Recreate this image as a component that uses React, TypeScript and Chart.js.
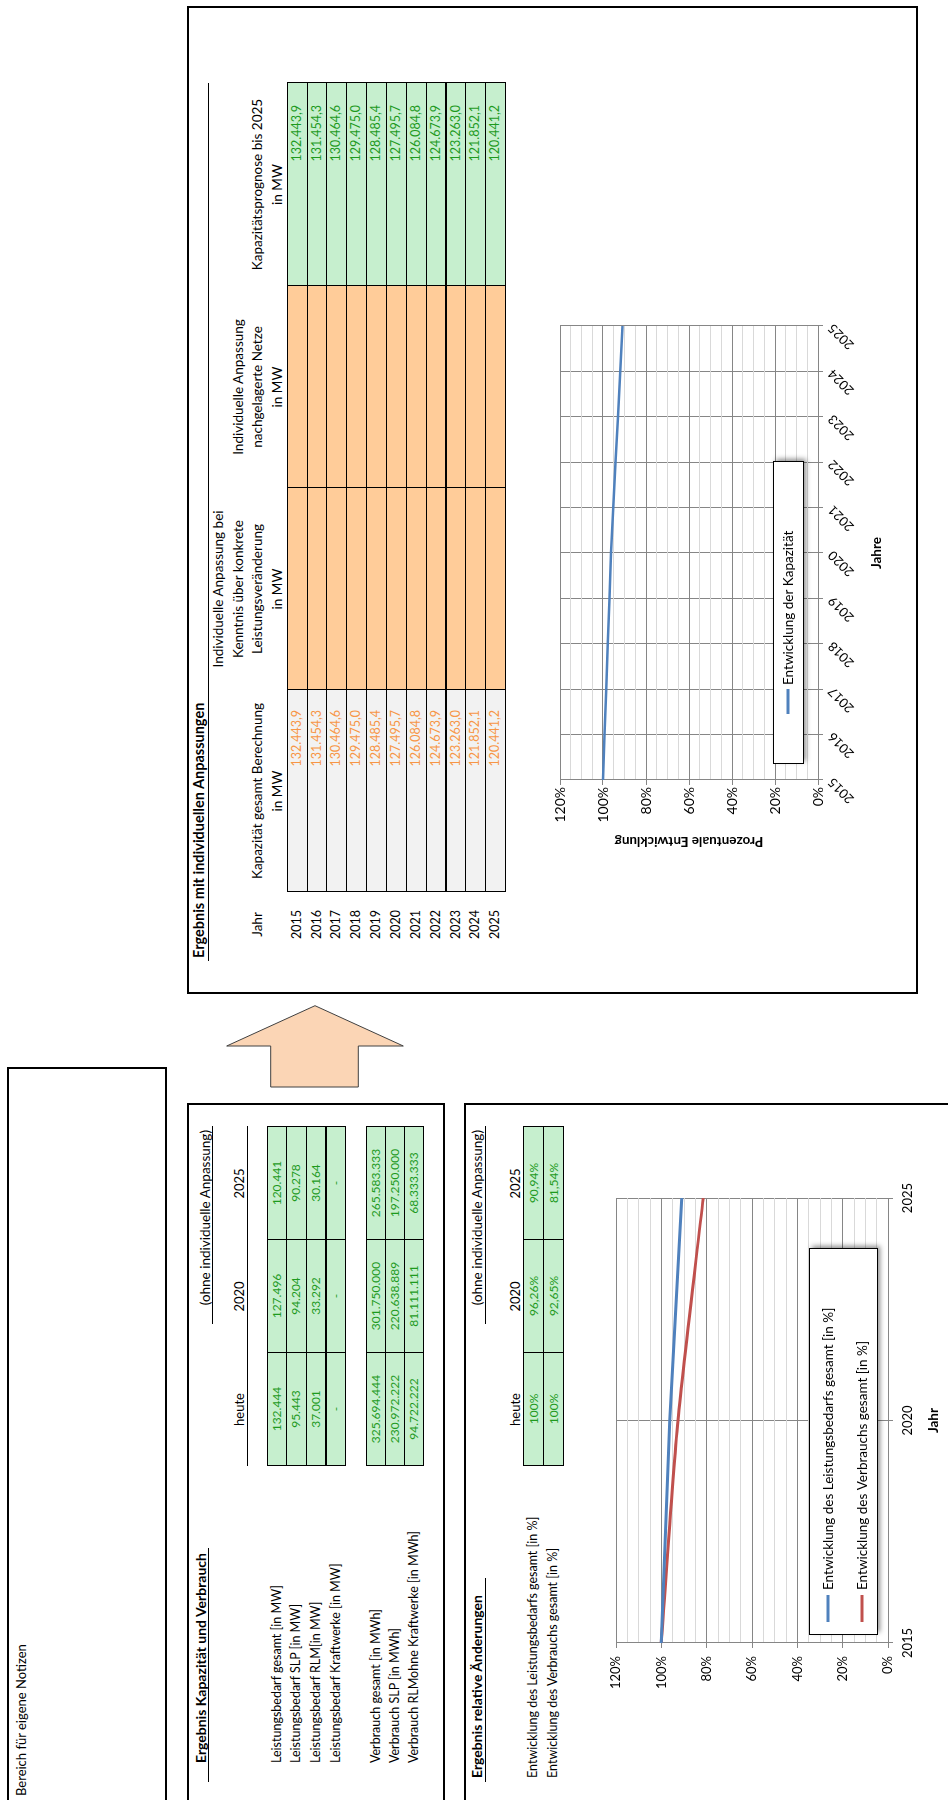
import React, { useEffect, useRef } from 'react';
import { Chart, registerables } from 'chart.js';

Chart.register(...registerables);
Chart.defaults.font.family = 'Lato, "Open Sans", sans-serif';
Chart.defaults.color = '#000';

// ---------------- data ----------------
const years = ['2015', '2016', '2017', '2018', '2019', '2020', '2021', '2022', '2023', '2024', '2025'];
const kapazitaetBerechnungMW = [132443.9, 131454.3, 130464.6, 129475.0, 128485.4, 127495.7, 126084.8, 124673.9, 123263.0, 121852.1, 120441.2];
const kapazitaetPrognoseMW = [132443.9, 131454.3, 130464.6, 129475.0, 128485.4, 127495.7, 126084.8, 124673.9, 123263.0, 121852.1, 120441.2];
const kapazitaetEntwicklungPct = [100, 99.25, 98.51, 97.76, 97.01, 96.26, 95.2, 94.13, 93.07, 92.0, 90.94];

const summaryColumns = ['heute', '2020', '2025'];
const leistungRows = ['Leistungsbedarf gesamt [in MW]', 'Leistungsbedarf SLP [in MW]', 'Leistungsbedarf RLM[in MW]', 'Leistungsbedarf Kraftwerke [in MW]'];
const leistungValues = [
  [132444, 127496, 120441],
  [95443, 94204, 90278],
  [37001, 33292, 30164],
  [null, null, null],
];
const verbrauchRows = ['Verbrauch gesamt [in MWh]', 'Verbrauch SLP [in MWh]', 'Verbrauch RLMohne Kraftwerke [in MWh]'];
const verbrauchValues = [
  [325694444, 301750000, 265583333],
  [230972222, 220638889, 197250000],
  [94722222, 81111111, 68333333],
];

const relChartYears = ['2015', '2020', '2025'];
const leistungsbedarfPct = [100, 96.26, 90.94];
const verbrauchPct = [100, 92.65, 81.54];
const relRows = ['Entwicklung des Leistungsbedarfs gesamt [in %]', 'Entwicklung des Verbrauchs gesamt [in %]'];

// ---------------- formatting ----------------
const groupDE = (s: string) => s.replace(/\B(?=(\d{3})+(?!\d))/g, '.');
const fmtInt = (n: number | null) => (n == null ? '-' : groupDE(String(Math.round(n))));
const fmtOne = (n: number) => {
  const [i, d] = n.toFixed(1).split('.');
  return groupDE(i) + ',' + d;
};
const fmtPct = (n: number) => (Number.isInteger(n) ? String(n) : n.toFixed(2).replace('.', ',')) + '%';

// ---------------- styles ----------------
const MAJOR = '#868686';
const MINOR = '#D9D9D9';
const BLUE = '#4F81BD';
const RED = '#C0504D';
const GREEN_BG = '#C6EFCE';
const GREEN_TX = '#1E9A1E';
const ORANGE_BG = '#FFCC99';
const ORANGE_TX = '#F79646';
const GREY_BG = '#F2F2F2';

// ---------------- chart helpers ----------------
const boxLegend = {
  id: 'boxLegend',
  afterDraw(chart: any, _args: any, o: any) {
    const { ctx, chartArea: ca } = chart;
    const x = Math.round(ca.left + o.x);
    const y = Math.round(ca.bottom - o.fromBottom);
    ctx.save();
    ctx.shadowColor = 'rgba(0,0,0,0.45)';
    ctx.shadowBlur = 5;
    ctx.shadowOffsetX = 3;
    ctx.shadowOffsetY = 3;
    ctx.fillStyle = '#fff';
    ctx.fillRect(x, y, o.w, o.h);
    ctx.shadowColor = 'rgba(0,0,0,0)';
    ctx.strokeStyle = '#000';
    ctx.lineWidth = 1;
    ctx.strokeRect(x + 0.5, y + 0.5, o.w, o.h);
    ctx.font = `${o.font}px Lato, "Open Sans", sans-serif`;
    ctx.textBaseline = 'middle';
    ctx.textAlign = 'left';
    chart.data.datasets.forEach((ds: any, i: number) => {
      const cy = y + o.rows[i];
      ctx.strokeStyle = ds.borderColor;
      ctx.lineWidth = 3;
      ctx.beginPath();
      ctx.moveTo(x + o.padLeft, cy);
      ctx.lineTo(x + o.padLeft + o.sample, cy);
      ctx.stroke();
      ctx.fillStyle = '#000';
      ctx.fillText(ds.label, x + o.padLeft + o.sample + o.gap, cy + 0.5);
    });
    ctx.restore();
  },
};

function pctScale(fontSize: number, pad: number, width: number, title?: string) {
  return {
    min: 0,
    max: 120,
    afterFit: (s: any) => {
      s.width = width;
    },
    ticks: {
      stepSize: 5,
      autoSkip: false,
      padding: pad,
      font: { size: fontSize },
      callback: (v: any) => (Number(v) % 20 === 0 ? `${v}%` : ''),
    },
    grid: {
      color: (c: any) => (c.tick && c.tick.value % 20 === 0 ? MAJOR : MINOR),
      tickColor: (c: any) => (c.tick && c.tick.value % 20 === 0 ? MAJOR : 'rgba(0,0,0,0)'),
      tickLength: 5,
      lineWidth: 1,
    },
    border: { color: MAJOR, width: 1 },
    title: title
      ? { display: true, text: title, font: { size: 13.5, weight: 'bold' }, padding: { top: 21, bottom: 0 } }
      : { display: false },
  };
}

const topChartConfig = () => ({
  type: 'line',
  data: {
    labels: years,
    datasets: [
      {
        label: 'Entwicklung der Kapazität',
        data: kapazitaetEntwicklungPct,
        borderColor: BLUE,
        backgroundColor: BLUE,
        borderWidth: 2.5,
        pointRadius: 0,
        tension: 0,
      },
    ],
  },
  options: {
    animation: false,
    responsive: false,
    devicePixelRatio: 1,
    layout: { padding: { left: 0, right: 16, top: 12, bottom: 0 } },
    plugins: {
      legend: { display: false },
      tooltip: { enabled: false },
      boxLegend: { x: 16, w: 302, fromBottom: 45, h: 30, padLeft: 50, sample: 25, gap: 4, rows: [15], font: 13.5 },
    },
    scales: {
      x: {
        type: 'category',
        offset: false,
        afterFit: (s: any) => {
          s.height = 80;
        },
        grid: { color: MAJOR, tickColor: MAJOR, tickLength: 5, offset: false },
        border: { color: MAJOR, width: 1 },
        ticks: { minRotation: 45, maxRotation: 45, autoSkip: false, padding: 2, font: { size: 13 } },
        title: { display: true, text: 'Jahre', font: { size: 13.5, weight: 'bold' }, padding: { top: 0, bottom: 13 } },
      },
      y: pctScale(14, 2, 90, 'Prozentuale Entwicklung'),
    },
  },
  plugins: [boxLegend],
});

const relChartConfig = () => ({
  type: 'line',
  data: {
    labels: relChartYears,
    datasets: [
      {
        label: 'Entwicklung des Leistungsbedarfs gesamt [in %]',
        data: leistungsbedarfPct,
        borderColor: BLUE,
        backgroundColor: BLUE,
        borderWidth: 3,
        pointRadius: 0,
        tension: 0.25,
      },
      {
        label: 'Entwicklung des Verbrauchs gesamt [in %]',
        data: verbrauchPct,
        borderColor: RED,
        backgroundColor: RED,
        borderWidth: 3,
        pointRadius: 0,
        tension: 0.25,
      },
    ],
  },
  options: {
    animation: false,
    responsive: false,
    devicePixelRatio: 1,
    layout: { padding: { left: 0, right: 16, top: 16, bottom: 0 } },
    plugins: {
      legend: { display: false },
      tooltip: { enabled: false },
      boxLegend: { x: 8, w: 386, fromBottom: 79, h: 68, padLeft: 13, sample: 27, gap: 5, rows: [19, 53], font: 13.5 },
    },
    scales: {
      x: {
        type: 'category',
        offset: false,
        afterFit: (s: any) => {
          s.height = 60;
        },
        grid: { color: MAJOR, tickColor: MAJOR, tickLength: 5, offset: false },
        border: { color: MAJOR, width: 1 },
        ticks: { maxRotation: 0, autoSkip: false, padding: 7, font: { size: 13 } },
        title: { display: true, text: 'Jahr', font: { size: 13.5, weight: 'bold' }, padding: { top: 0, bottom: 6 } },
      },
      y: pctScale(13, 8, 57),
    },
  },
  plugins: [boxLegend],
});

function ChartCanvas({ config, left, top, width, height }: any) {
  const ref = useRef<HTMLCanvasElement>(null);
  useEffect(() => {
    const chart = new Chart(ref.current as HTMLCanvasElement, config() as any);
    return () => chart.destroy();
  }, []);
  return (
    <canvas
      ref={ref}
      width={width}
      height={height}
      style={{ position: 'absolute', left, top, width, height, display: 'block' }}
    />
  );
}

// ---------------- layout helpers (landscape coordinates) ----------------
function Txt({ x, y, w, h, children, align = 'left', size = 12, bold = false, color = '#000', pr = 0 }: any) {
  return (
    <div
      style={{
        position: 'absolute',
        left: x,
        top: y,
        width: w,
        height: h,
        lineHeight: `${h}px`,
        textAlign: align,
        fontSize: size,
        fontWeight: bold ? 700 : 400,
        color,
        paddingRight: pr,
        boxSizing: 'border-box',
        whiteSpace: 'nowrap',
      }}
    >
      {children}
    </div>
  );
}

function HLine({ x1, x2, y, t = 1 }: any) {
  return <div style={{ position: 'absolute', left: x1, top: y - t / 2, width: x2 - x1, height: t, background: '#000' }} />;
}

function Cell({ x, y, w, h, bg, children, align = 'right', pr = 0, color = '#000', size = 12 }: any) {
  return (
    <div
      style={{
        position: 'absolute',
        left: x,
        top: y,
        width: w + 1,
        height: h + 1,
        border: '1px solid #000',
        boxSizing: 'border-box',
        background: bg,
        lineHeight: `${h - 1}px`,
        textAlign: align,
        paddingRight: pr,
        color,
        fontSize: size,
        whiteSpace: 'nowrap',
      }}
    >
      {children}
    </div>
  );
}

function Box({ x, y, w, h }: any) {
  return (
    <div
      style={{ position: 'absolute', left: x, top: y, width: w, height: h, border: '2px solid #000', boxSizing: 'border-box' }}
    />
  );
}

function Arrow() {
  const ox = 700;
  const oy = 220;
  const pts = [
    [713, 270.7],
    [754, 270.7],
    [754, 226.7],
    [794.3, 315],
    [754, 403.3],
    [754, 358.3],
    [713, 358.3],
  ]
    .map(([a, b]) => `${a - ox},${b - oy}`)
    .join(' ');
  return (
    <svg style={{ position: 'absolute', left: ox, top: oy, overflow: 'visible' }} width={110} height={200}>
      <polygon points={pts} fill="#FBD5B5" stroke="#404040" strokeWidth={1} />
    </svg>
  );
}

// ---------------- sections ----------------
const TOP_ROW_Y = 286.7;
const TOP_ROW_H = 19.85;
const HDR_LINE = 19.5;
const HDR_TOP = 209.25;

const topHeaderCols = [
  { x: 855, w: 41, lines: ['Jahr'] },
  { x: 908, w: 202, lines: ['Kapazität gesamt Berechnung', 'in MW'] },
  { x: 1110, w: 202, lines: ['Individuelle Anpassung bei', 'Kenntnis über konkrete', 'Leistungsveränderung', 'in MW'] },
  { x: 1312, w: 202, lines: ['Individuelle Anpassung', 'nachgelagerte Netze', 'in MW'] },
  { x: 1514, w: 203, lines: ['Kapazitätsprognose bis 2025', 'in MW'] },
];

function TopSection() {
  const rowY = (i: number) => TOP_ROW_Y + i * TOP_ROW_H;
  return (
    <>
      <Txt x={842} y={190} h={18} size={14.5} bold>
        Ergebnis mit individuellen Anpassungen
      </Txt>
      <HLine x1={839} x2={1717} y={208} />
      {topHeaderCols.map((c, ci) =>
        c.lines.map((ln, li) => (
          <Txt
            key={`h${ci}-${li}`}
            x={c.x}
            w={c.w}
            y={HDR_TOP + (4 - c.lines.length + li) * HDR_LINE - (c.lines.length === 1 ? HDR_LINE : 0)}
            h={HDR_LINE}
            size={13.5}
            align="center"
          >
            {ln}
          </Txt>
        ))
      )}
      {years.map((yr, i) => (
        <React.Fragment key={yr}>
          <Txt x={855} w={41} y={rowY(i)} h={TOP_ROW_H} size={12.5} align="center">
            {yr}
          </Txt>
          <Cell x={908} y={rowY(i)} w={202} h={TOP_ROW_H} bg={GREY_BG} pr={20} color={ORANGE_TX} size={12.5}>
            {fmtOne(kapazitaetBerechnungMW[i])}
          </Cell>
          <Cell x={1110} y={rowY(i)} w={202} h={TOP_ROW_H} bg={ORANGE_BG} />
          <Cell x={1312} y={rowY(i)} w={202} h={TOP_ROW_H} bg={ORANGE_BG} />
          <Cell x={1514} y={rowY(i)} w={203} h={TOP_ROW_H} bg={GREEN_BG} pr={22} color={GREEN_TX} size={12.5}>
            {fmtOne(kapazitaetPrognoseMW[i])}
          </Cell>
        </React.Fragment>
      ))}
      <ChartCanvas config={topChartConfig} left={930} top={548} width={560} height={350} />
    </>
  );
}

const SUM_COLS = [334, 447, 560];
const SUM_W = 113;

function CapacitySection() {
  return (
    <>
      <Txt x={37} y={192} h={18} size={14} bold>
        Ergebnis Kapazität und Verbrauch
      </Txt>
      <HLine x1={18} x2={252} y={208.3} />
      <Txt x={440} w={230} y={196} h={18} size={13.5} align="right">
        (ohne individuelle Anpassung)
      </Txt>
      <HLine x1={476} x2={674} y={212} />
      {summaryColumns.map((c, i) => (
        <Txt key={c} x={SUM_COLS[i]} w={SUM_W} y={229.5} h={18} size={13} align="center">
          {c}
        </Txt>
      ))}
      <HLine x1={334} x2={674} y={247.3} />
      {leistungRows.map((lbl, r) => {
        const y = 266.7 + r * 19.6;
        return (
          <React.Fragment key={lbl}>
            <Txt x={37} y={y} h={19.6} size={12.5}>
              {lbl}
            </Txt>
            {leistungValues[r].map((v, c) => (
              <Cell key={c} x={SUM_COLS[c]} y={y} w={SUM_W} h={19.6} bg={GREEN_BG} align="center" color={GREEN_TX}>
                {fmtInt(v)}
              </Cell>
            ))}
          </React.Fragment>
        );
      })}
      {verbrauchRows.map((lbl, r) => {
        const y = 365.7 + r * 19.2;
        return (
          <React.Fragment key={lbl}>
            <Txt x={37} y={y} h={19.2} size={12.5}>
              {lbl}
            </Txt>
            {verbrauchValues[r].map((v, c) => (
              <Cell key={c} x={SUM_COLS[c]} y={y} w={SUM_W} h={19.2} bg={GREEN_BG} align="center" color={GREEN_TX}>
                {fmtInt(v)}
              </Cell>
            ))}
          </React.Fragment>
        );
      })}
    </>
  );
}

function RelativeSection() {
  const relValues = [leistungsbedarfPct, verbrauchPct];
  return (
    <>
      <Txt x={22} y={467.7} h={18} size={14} bold>
        Ergebnis relative Änderungen
      </Txt>
      <HLine x1={18} x2={222} y={485} />
      <Txt x={440} w={230} y={467.7} h={18} size={13.5} align="right">
        (ohne individuelle Anpassung)
      </Txt>
      <HLine x1={476} x2={674} y={485} />
      {summaryColumns.map((c, i) => (
        <Txt key={c} x={SUM_COLS[i]} w={SUM_W} y={506} h={18} size={13} align="center">
          {c}
        </Txt>
      ))}
      {relRows.map((lbl, r) => {
        const y = 523.3 + r * 20;
        return (
          <React.Fragment key={lbl}>
            <Txt x={22} y={y} h={20} size={12.5}>
              {lbl}
            </Txt>
            {relValues[r].map((v, c) => (
              <Cell key={c} x={SUM_COLS[c]} y={y} w={SUM_W} h={20} bg={GREEN_BG} align="center" color={GREEN_TX}>
                {fmtPct(v)}
              </Cell>
            ))}
          </React.Fragment>
        );
      })}
      <ChartCanvas config={relChartConfig} left={100} top={600} width={524} height={348} />
    </>
  );
}

export default function App() {
  useEffect(() => {
    document.body.style.margin = '0';
    document.body.style.overflow = 'hidden';
  }, []);
  return (
    <div
      style={{
        position: 'absolute',
        left: 0,
        top: 0,
        width: 1800,
        height: 948,
        transformOrigin: '0 0',
        transform: 'translate(0px, 1800px) rotate(-90deg)',
        fontFamily: 'Lato, "Open Sans", sans-serif',
        color: '#000',
        background: '#fff',
        overflow: 'hidden',
      }}
    >
      <Box x={806} y={187} w={988} h={731} />
      <Box x={-5} y={7} w={738} h={160} />
      <Box x={-5} y={187} w={701.5} h={258} />
      <Box x={-5} y={464} w={701.5} h={500} />
      <Arrow />
      <Txt x={4} y={12} h={18} size={13}>
        Bereich für eigene Notizen
      </Txt>
      <TopSection />
      <CapacitySection />
      <RelativeSection />
    </div>
  );
}
